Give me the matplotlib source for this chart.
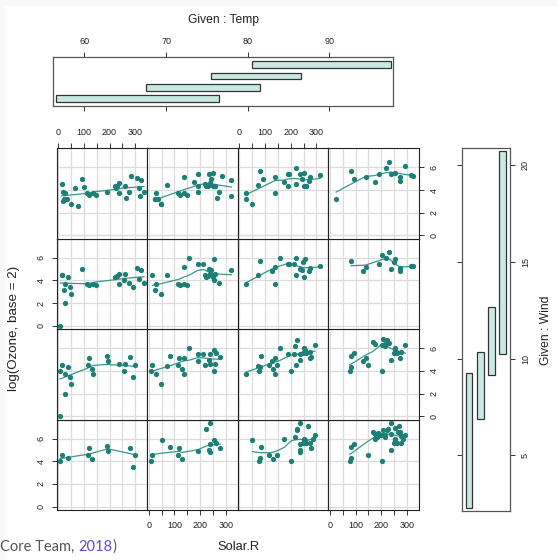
import numpy as np
import matplotlib
matplotlib.use("Agg")
import matplotlib.pyplot as plt
from matplotlib.patches import Rectangle

plt.rcParams['font.family'] = ['Liberation Sans', 'DejaVu Sans']

NA = np.nan
# airquality data (R datasets)
ozone = [41, 36, 12, 18, NA, 28, 23, 19, 8, NA,
         7, 16, 11, 14, 18, 14, 34, 6, 30, 11,
         1, 11, 4, 32, NA, NA, NA, 23, 45, 115,
         37, NA, NA, NA, NA, NA, NA, 29, NA, 71,
         39, NA, NA, 23, NA, NA, 21, 37, 20, 12,
         13, NA, NA, NA, NA, NA, NA, NA, NA, NA,
         NA, 135, 49, 32, NA, 64, 40, 77, 97, 97,
         85, NA, 10, 27, NA, 7, 48, 35, 61, 79,
         63, 16, NA, NA, 80, 108, 20, 52, 82, 50,
         64, 59, 39, 9, 16, 78, 35, 66, 122, 89,
         110, NA, NA, 44, 28, 65, NA, 22, 59, 23,
         31, 44, 21, 9, NA, 45, 168, 73, NA, 76,
         118, 84, 85, 96, 78, 73, 91, 47, 32, 20,
         23, 21, 24, 44, 21, 28, 9, 13, 46, 18,
         13, 24, 16, 13, 23, 36, 7, 14, 30, NA,
         14, 18, 20]
solar_r = [190, 118, 149, 313, NA, NA, 299, 99, 19, 194,
           NA, 256, 290, 274, 65, 334, 307, 78, 322, 44,
           8, 320, 25, 92, 66, 266, NA, 13, 252, 223,
           279, 286, 287, 242, 186, 220, 264, 127, 273, 291,
           323, 259, 250, 148, 332, 322, 191, 284, 37, 120,
           137, 150, 59, 91, 250, 135, 127, 47, 98, 31,
           138, 269, 248, 236, 101, 175, 314, 276, 267, 272,
           175, 139, 264, 175, 291, 48, 260, 274, 285, 187,
           220, 7, 258, 295, 294, 223, 81, 82, 213, 275,
           253, 254, 83, 24, 77, NA, NA, NA, 255, 229,
           207, 222, 137, 192, 273, 157, 64, 71, 51, 115,
           244, 190, 259, 36, 255, 212, 238, 215, 153, 203,
           225, 237, 188, 167, 197, 183, 189, 95, 92, 252,
           220, 230, 259, 236, 259, 238, 24, 112, 237, 224,
           27, 238, 201, 238, 14, 139, 49, 20, 193, 145,
           191, 131, 223]
wind = [7.4, 8.0, 12.6, 11.5, 14.3, 14.9, 8.6, 13.8, 20.1, 8.6,
        6.9, 9.7, 9.2, 10.9, 13.2, 11.5, 12.0, 18.4, 11.5, 9.7,
        9.7, 16.6, 9.7, 12.0, 16.6, 14.9, 8.0, 12.0, 14.9, 5.7,
        7.4, 8.6, 9.7, 16.1, 9.2, 8.6, 14.3, 9.7, 6.9, 13.8,
        11.5, 10.9, 9.2, 8.0, 13.8, 11.5, 14.9, 20.7, 9.2, 11.5,
        10.3, 6.3, 1.7, 4.6, 6.3, 8.0, 8.0, 10.3, 11.5, 14.9,
        8.0, 4.1, 9.2, 9.2, 10.9, 4.6, 10.9, 5.1, 6.3, 5.7,
        7.4, 8.6, 14.3, 14.9, 14.9, 14.3, 6.9, 10.3, 6.3, 5.1,
        11.5, 6.9, 9.7, 11.5, 8.6, 8.0, 8.6, 12.0, 7.4, 7.4,
        7.4, 9.2, 6.9, 13.8, 7.4, 6.9, 7.4, 4.6, 4.0, 10.3,
        8.0, 8.6, 11.5, 11.5, 11.5, 9.7, 11.5, 10.3, 6.3, 7.4,
        10.9, 10.3, 15.5, 14.3, 12.6, 9.7, 3.4, 8.0, 5.7, 9.7,
        2.3, 6.3, 6.3, 6.9, 5.1, 2.8, 4.6, 7.4, 15.5, 10.9,
        10.3, 10.9, 9.7, 14.9, 15.5, 6.3, 10.9, 11.5, 6.9, 13.8,
        10.3, 10.3, 8.0, 12.6, 9.2, 10.3, 10.3, 16.6, 6.9, 13.2,
        14.3, 8.0, 11.5]
temp = [67, 72, 74, 62, 56, 66, 65, 59, 61, 69,
        74, 69, 66, 68, 58, 64, 66, 57, 68, 62,
        59, 73, 61, 61, 57, 58, 57, 67, 81, 79,
        76, 78, 74, 67, 84, 85, 79, 82, 87, 90,
        87, 93, 92, 82, 80, 79, 77, 72, 65, 73,
        76, 77, 76, 76, 76, 75, 78, 73, 80, 77,
        83, 84, 85, 81, 84, 83, 83, 88, 92, 92,
        89, 82, 73, 81, 91, 80, 81, 82, 84, 87,
        85, 74, 81, 82, 86, 85, 82, 86, 88, 86,
        83, 81, 81, 81, 82, 86, 85, 87, 89, 90,
        90, 92, 86, 86, 82, 80, 79, 77, 79, 76,
        78, 78, 77, 72, 75, 79, 81, 86, 88, 97,
        94, 96, 94, 91, 92, 93, 93, 87, 84, 80,
        78, 75, 73, 81, 76, 77, 71, 71, 78, 67,
        76, 68, 82, 64, 71, 81, 69, 63, 70, 77,
        75, 76, 68]

temp_intervals = [(56.5, 76.5), (67.5, 81.5), (75.5, 86.5), (80.5, 97.5)]
wind_intervals = [(2.25, 9.25), (6.85, 10.35), (9.15, 12.65), (10.25, 20.75)]

solar_ticks = [0, 50, 100, 150, 200, 250, 300]
solar_labels = ['0', '', '100', '', '200', '', '300']
ozone_ticks = [0, 2, 4, 6]
temp_ticks = [60, 70, 80, 90]
wind_ticks = [5, 10, 15, 20]

PT_COL = '#1d7f76'
LINE_COL = '#3a978c'
BAR_COL = '#c8e9e1'
TXT = '#222222'


def lowess(x, y, f=2/3, iters=3):
    # port of R's clowess
    o = np.argsort(x, kind='mergesort')
    x = np.asarray(x, float)[o]
    y = np.asarray(y, float)[o]
    n = len(x)
    if n < 2:
        return x, y.copy()
    ns = max(min(int(f * n + 1e-7), n), 2)
    delta = 0.01 * (x[-1] - x[0])
    rw = np.ones(n)
    ys = np.zeros(n)
    xrange_ = x[-1] - x[0]

    def lowest(xs, nleft, nright, userw):
        h = max(xs - x[nleft], x[nright] - xs)
        h9, h1 = 0.999 * h, 0.001 * h
        w = np.zeros(n)
        a = 0.0
        j = nleft
        while j < n:
            r = abs(x[j] - xs)
            if r <= h9:
                w[j] = 1.0 if r <= h1 else (1 - (r / h) ** 3) ** 3
                if userw:
                    w[j] *= rw[j]
                a += w[j]
            elif x[j] > xs:
                break
            j += 1
        nrt = j - 1
        if a <= 0:
            return None
        sl = slice(nleft, nrt + 1)
        ww = w[sl] / a
        if h > 0:
            aa = np.sum(ww * x[sl])
            b = xs - aa
            c = np.sum(ww * (x[sl] - aa) ** 2)
            if np.sqrt(c) > 0.001 * xrange_:
                b /= c
                ww = ww * (b * (x[sl] - aa) + 1)
        return np.sum(ww * y[sl])

    for it in range(iters + 1):
        nleft, nright = 0, ns - 1
        last = -1
        i = 0
        while True:
            while nright < n - 1:
                d1 = x[i] - x[nleft]
                d2 = x[nright + 1] - x[i]
                if d1 <= d2:
                    break
                nleft += 1
                nright += 1
            v = lowest(x[i], nleft, nright, it > 0)
            ys[i] = y[i] if v is None else v
            if last < i - 1:
                denom = x[i] - x[last]
                for j in range(last + 1, i):
                    alpha = (x[j] - x[last]) / denom
                    ys[j] = alpha * ys[i] + (1 - alpha) * ys[last]
            last = i
            cut = x[last] + delta
            i = last + 1
            while i < n:
                if x[i] > cut:
                    break
                if x[i] == x[last]:
                    ys[i] = ys[last]
                    last = i
                i += 1
            i = max(last + 1, i - 1)
            if last >= n - 1:
                break
        res = y - ys
        sc = np.sum(np.abs(res)) / n
        if it >= iters:
            break
        ar = np.abs(res)
        cmad = 6 * np.median(ar)
        if cmad < 1e-7 * sc:
            break
        c9, c1 = 0.999 * cmad, 0.001 * cmad
        rw = np.where(ar <= c1, 1.0,
                      np.where(ar <= c9, (1 - (ar / cmad) ** 2) ** 2, 0.0))
    return x, ys


oz = np.array(ozone, float)
sr = np.array(solar_r, float)
wd = np.array(wind, float)
tp = np.array(temp, float)
ok = np.isfinite(oz) & np.isfinite(sr)
y_all = np.log2(oz[ok])
x_all = sr[ok]
w_all = wd[ok]
t_all = tp[ok]

xlo, xhi = x_all.min(), x_all.max()
xlim = (xlo - 0.04 * (xhi - xlo), xhi + 0.04 * (xhi - xlo))
ylo, yhi = y_all.min(), y_all.max()
ylim = (ylo - 0.04 * (yhi - ylo), yhi + 0.04 * (yhi - ylo))

W, H = 557, 560
fig = plt.figure(figsize=(W / 100, H / 100), dpi=100)
fig.patches.append(Rectangle((0, 1 - 4.5 / H), 1, 4.5 / H, transform=fig.transFigure,
                             color='#f8f8f8', zorder=-5))
fig.patches.append(Rectangle((0, 0), 3.5 / W, 1, transform=fig.transFigure,
                             color='#f8f8f8', zorder=-5))


def add_px(x0, y0, x1, y1):
    return fig.add_axes([x0 / W, 1 - y1 / H, (x1 - x0) / W, (y1 - y0) / H])


tick_kw = dict(direction='out', length=3.8, width=0.7, colors='#333333',
               labelsize=6.5, labelcolor=TXT, pad=4)

# main panels
L, R, T, B = 56.7, 419.0, 148.3, 510.0
cw = (R - L) / 4
rh = (B - T) / 4
for r, (wlo, whi) in enumerate(wind_intervals):
    for c, (tlo, thi) in enumerate(temp_intervals):
        x0 = L + c * cw
        y1 = B - r * rh
        ax = add_px(x0, y1 - rh, x0 + cw, y1)
        ax.set_xlim(xlim)
        ax.set_ylim(ylim)
        for g in solar_ticks:
            ax.axvline(g, color='#dcdcdc', lw=0.9, zorder=0)
        for g in ozone_ticks:
            ax.axhline(g, color='#dcdcdc', lw=0.9, zorder=0)
        m = (t_all >= tlo) & (t_all <= thi) & (w_all >= wlo) & (w_all <= whi)
        px, py = x_all[m], y_all[m]
        ax.plot(px, py, 'o', color=PT_COL, ms=3.8, mew=0, zorder=3)
        if len(px) > 1:
            lx, ly = lowess(px, py)
            ax.plot(lx, ly, color=LINE_COL, lw=0.9, zorder=2)
        for s in ax.spines.values():
            s.set_color('#222222')
            s.set_linewidth(0.8)
        ax.set_xticks(solar_ticks)
        ax.set_xticklabels(solar_labels)
        ax.set_yticks(ozone_ticks)
        ax.set_yticklabels([str(v) for v in ozone_ticks])
        ax.tick_params(**tick_kw)
        ax.tick_params(axis='y', labelrotation=90)
        top = (r == 3 and c % 2 == 0)
        bot = (r == 0 and c % 2 == 1)
        left = (c == 0 and r % 2 == 0)
        right = (c == 3 and r % 2 == 1)
        ax.tick_params(axis='x', top=top, labeltop=top, bottom=bot, labelbottom=bot)
        ax.tick_params(axis='y', left=left, labelleft=left, right=right, labelright=right)
        for lab in ax.get_yticklabels():
            lab.set_va('center')

# given: Temp
axt = add_px(53.3, 57.3, 393.3, 106.0)
tr = (temp_intervals[0][0], temp_intervals[-1][1])
tspan = tr[1] - tr[0]
wlo_, whi_ = tr[0] + 0.03 * tspan, tr[1] - 0.03 * tspan
axt.set_xlim(wlo_ - 0.04 * (whi_ - wlo_), whi_ + 0.04 * (whi_ - wlo_))
axt.set_ylim(0.5 - 0.16, 4.5 + 0.16)
axt.barh([1, 2, 3, 4], [b - a for a, b in temp_intervals],
         left=[a for a, b in temp_intervals], height=0.6,
         color=BAR_COL, edgecolor='#333333', lw=0.9)
axt.set_xticks(temp_ticks)
axt.set_yticks([])
axt.tick_params(**tick_kw)
axt.tick_params(axis='x', top=True, labeltop=True, bottom=True, labelbottom=False)
for s in axt.spines.values():
    s.set_color('#555555')
    s.set_linewidth(0.9)

# given: Wind
axw = add_px(461.7, 148.3, 510.0, 511.0)
wr = (wind_intervals[0][0], wind_intervals[-1][1])
wspan = wr[1] - wr[0]
a_, b_ = wr[0] + 0.03 * wspan, wr[1] - 0.03 * wspan
axw.set_ylim(a_ - 0.04 * (b_ - a_), b_ + 0.04 * (b_ - a_))
axw.set_xlim(0.5 - 0.16, 4.5 + 0.16)
axw.bar([1, 2, 3, 4], [b - a for a, b in wind_intervals],
        bottom=[a for a, b in wind_intervals], width=0.6,
        color=BAR_COL, edgecolor='#333333', lw=0.9)
axw.set_yticks(wind_ticks)
axw.set_xticks([])
axw.tick_params(**tick_kw)
axw.tick_params(axis='y', left=True, labelleft=False, right=True, labelright=True,
                labelrotation=90)
for lab in axw.get_yticklabels():
    lab.set_va('center')
for s in axw.spines.values():
    s.set_color('#555555')
    s.set_linewidth(0.9)

fig.text(223.3 / W, 1 - 20 / H, 'Given : Temp', ha='center', va='center',
         fontsize=8.7, color=TXT)
fig.text(546 / W, 1 - 330 / H, 'Given : Wind', ha='center', va='center',
         rotation=90, fontsize=8.7, color=TXT)
fig.text(14 / W, 1 - 328 / H, 'log(Ozone, base = 2)', ha='center', va='center',
         rotation=90, fontsize=9.6, color=TXT)
fig.text(238 / W, 1 - 547 / H, 'Solar.R', ha='center', va='center',
         fontsize=9.3, color=TXT)

# page text below the figure
fig.canvas.draw()
rend = fig.canvas.get_renderer()
xpos = 0.5
for piece, col in [('Core Team, ', '#555555'), ('2018', '#5a4fcf'), (')', '#555555')]:
    t = fig.text(xpos / W, 1 - 551 / H, piece, ha='left', va='baseline',
                 fontsize=10.5, color=col, family=['Lato', 'DejaVu Sans'])
    bb = t.get_window_extent(renderer=rend)
    xpos += bb.width

fig.savefig('out.png', dpi=100)
